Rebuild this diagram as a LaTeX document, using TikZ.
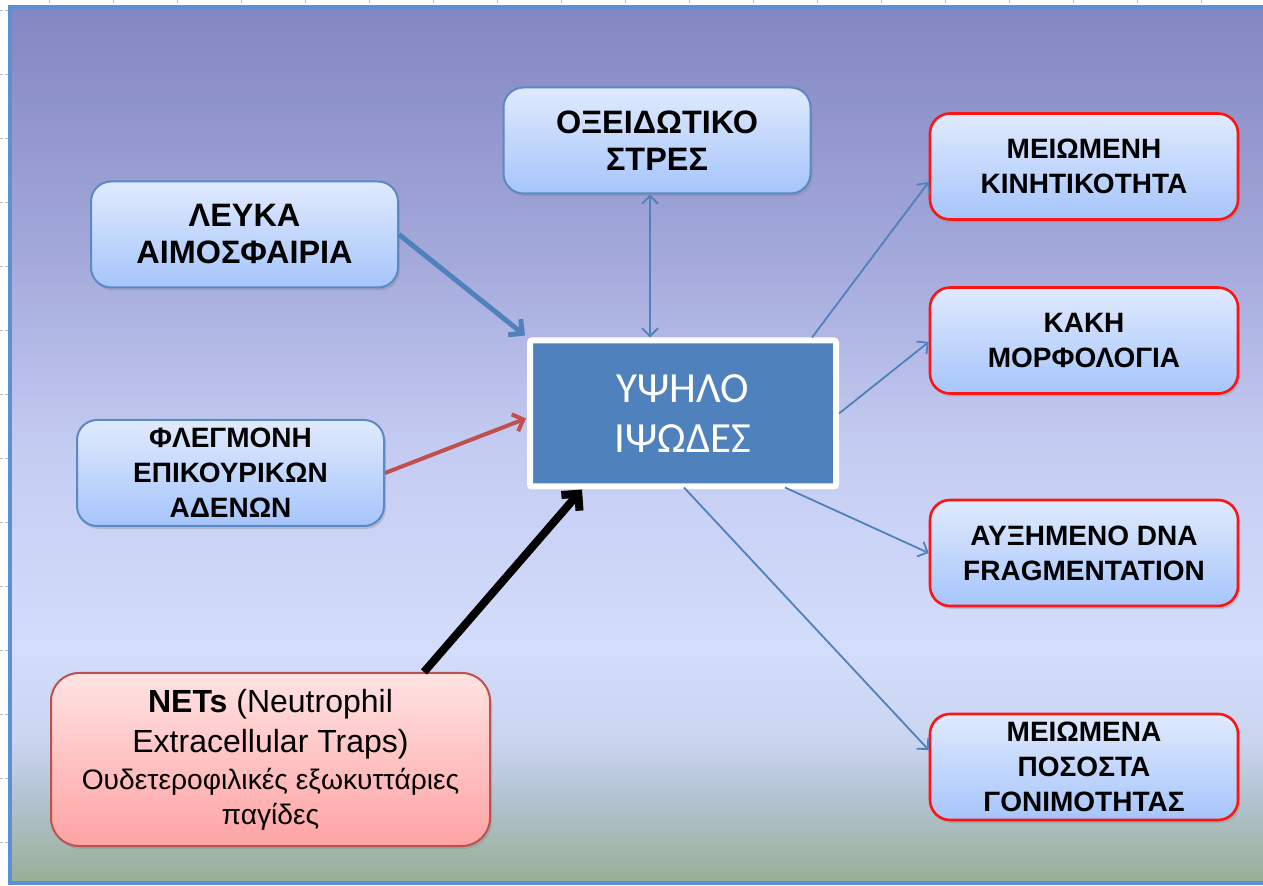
\documentclass[tikz,border=0pt]{standalone}
\usepackage{fontspec}
\setmainfont{Liberation Sans}
\newfontfamily\calib{Carlito}
\usetikzlibrary{arrows.meta,shadows,calc}
\definecolor{bgA}{HTML}{8386C2}
\definecolor{bgB}{HTML}{A3A8DA}
\definecolor{bgC}{HTML}{C5CCF2}
\definecolor{bgD}{HTML}{D3DDFB}
\definecolor{bgE}{HTML}{CAD5F0}
\definecolor{bgF}{HTML}{B3C3CF}
\definecolor{bgG}{HTML}{98AE96}
\definecolor{panelborder}{HTML}{5B8FD6}
\definecolor{boxtop}{HTML}{E0EAFE}
\definecolor{boxbot}{HTML}{A6C5FB}
\definecolor{boxborder}{HTML}{5A89C4}
\definecolor{redborder}{HTML}{FF1414}
\definecolor{nettop}{HTML}{FFE3E3}
\definecolor{netbot}{HTML}{FFA3A3}
\definecolor{netborder}{HTML}{C0504D}
\definecolor{cenfill}{HTML}{4F81BD}
\definecolor{arrblue}{HTML}{4F81BD}
\definecolor{arrred}{HTML}{C0504D}
\definecolor{tickcol}{HTML}{A9C2D6}
\pgfdeclareverticalshading{panelshade}{100bp}{color(0bp)=(bgG); color(25bp)=(bgG); color(29.8bp)=(bgF); color(33.2bp)=(bgE); color(38.3bp)=(bgD); color(49.7bp)=(bgC); color(61.1bp)=(bgB); color(75bp)=(bgA); color(100bp)=(bgA)}
\tikzset{
  boxbase/.style={rectangle, rounded corners=10pt, align=center, top color=boxtop, bottom color=boxbot,
    minimum width=153.5pt, minimum height=53pt, inner sep=2pt,
    font=\fontsize{14}{17.5}\selectfont\bfseries,
    drop shadow={opacity=0.3, shadow xshift=1pt, shadow yshift=-1.5pt}},
  lbox/.style={boxbase, draw=boxborder, line width=1pt},
  bigtext/.style={font=\fontsize{16.2}{18.5}\selectfont\bfseries},
  rbox/.style={boxbase, draw=redborder, line width=1.3pt, minimum width=154pt},
  netbox/.style={rectangle, rounded corners=14pt, align=center, top color=nettop, bottom color=netbot,
    draw=netborder, line width=1pt, minimum width=219.5pt, minimum height=86.5pt,
    font=\fontsize{16}{20}\selectfont,
    drop shadow={opacity=0.3, shadow xshift=1pt, shadow yshift=-1.5pt}},
  cenbox/.style={rectangle, rounded corners=1pt, fill=cenfill, draw=white, line width=3pt,
    minimum width=153pt, minimum height=73pt, align=center, text=white,
    font=\calib\fontsize{21.5}{25}\selectfont,
    drop shadow={opacity=0.3, shadow xshift=1pt, shadow yshift=-1.5pt}},
  thinarr/.style={draw=arrblue, line width=0.9pt, -{Straight Barb[length=4pt,width=8pt]}},
  tickmark/.style={draw=tickcol, line width=0.4pt, dash pattern=on 1.5pt off 1pt},
}
\begin{document}
\begin{tikzpicture}[x=0.5pt,y=-0.5pt]
\useasboundingbox (0,0) rectangle (1263,886);
\clip (0,0) rectangle (1263,886);
\fill[white] (0,0) rectangle (1263,886);
% grid ticks outside the panel
\foreach \x in {49,113,...,1201} \draw[tickmark] (\x,0) -- (\x,5);
\foreach \y in {10,74,...,842} \draw[tickmark] (0,\y) -- (8,\y);
% panel
\shade[shading=panelshade] (10,7) rectangle (1270,883);
\draw[panelborder, line width=2pt] (10,7) rectangle (1270,883);

% nodes
\node[lbox, bigtext] (leuka) at (244.5,234.5) {ΛΕΥΚΑ\\ΑΙΜΟΣΦΑΙΡΙΑ};
\node[lbox, bigtext] (oxeid) at (657,140.5) {ΟΞΕΙΔΩΤΙΚΟ\\ΣΤΡΕΣ};
\node[lbox] (flegm) at (230.5,473) {ΦΛΕΓΜΟΝΗ\\ΕΠΙΚΟΥΡΙΚΩΝ\\ΑΔΕΝΩΝ};
\node[netbox] (nets) at (270.5,759.5) {\textbf{NETs} (Neutrophil\\
  Extracellular Traps)\\[-1.5pt]
  {\fontsize{14.1}{17.5}\selectfont Ουδετεροφιλικές εξωκυττάριες}\\[-2.5pt]
  {\fontsize{14.1}{17.5}\selectfont παγίδες}};
\node[cenbox] (cen) at (683,413.5) {ΥΨΗΛΟ\\ΙΨΩΔΕΣ};
\node[rbox] (r1) at (1084,166.5) {ΜΕΙΩΜΕΝΗ\\ΚΙΝΗΤΙΚΟΤΗΤΑ};
\node[rbox] (r2) at (1084,340.5) {ΚΑΚΗ\\ΜΟΡΦΟΛΟΓΙΑ};
\node[rbox] (r3) at (1084,553) {ΑΥΞΗΜΕΝΟ DNA\\FRAGMENTATION};
\node[rbox] (r4) at (1084,767) {ΜΕΙΩΜΕΝΑ\\ΠΟΣΟΣΤΑ\\ΓΟΝΙΜΟΤΗΤΑΣ};

% connectors
\draw[draw=arrblue, line width=2.5pt, -{Straight Barb[length=5pt,width=10pt]}] (leuka.east) -- ($(cen.north west)+(-2,-2)$);
\draw[draw=arrred, line width=2pt, -{Straight Barb[length=4.5pt,width=9pt]}] (flegm.east) -- ($(cen.west)+(-1,5)$);
\draw[draw=black, line width=4pt, -{Straight Barb[length=6pt,width=12pt]}] ($(nets.north east)+(-67,0)$) -- ($(cen.south west)+(55,0)$);
\draw[draw=arrblue, line width=0.9pt, {Straight Barb[length=4pt,width=8pt]}-{Straight Barb[length=4pt,width=8pt]}] ($(oxeid.south)+(-7,0)$) -- ($(cen.north)+(-33,0)$);
\draw[thinarr] ($(cen.north east)+(-27,0)$) -- ($(r1.west)+(0,15.5)$);
\draw[thinarr] (cen.east) -- ($(r2.west)+(0,1.5)$);
\draw[thinarr] ($(cen.south east)+(-54,-2)$) -- (r3.west);
\draw[thinarr] ($(cen.south west)+(157,-2)$) -- ($(r4.west)+(0,-17)$);
\end{tikzpicture}
\end{document}
